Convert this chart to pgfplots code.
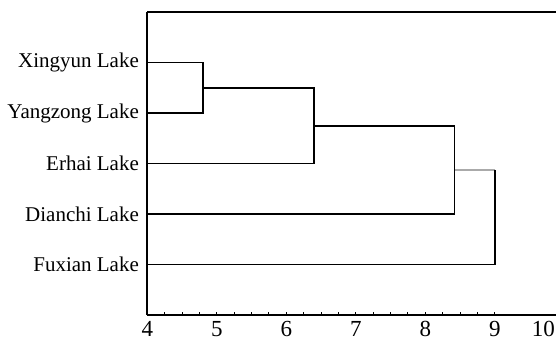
\documentclass[border=0pt]{standalone}
\usepackage{pgfplots}
\pgfplotsset{compat=1.18}
\usepackage{fontspec}
\setmainfont{Liberation Serif}
\definecolor{lg}{RGB}{170,170,170}
\begin{document}
\begin{tikzpicture}
\begin{axis}[
  scale only axis, width=208.5pt, height=151.5pt,
  xmin=4, xmax=10, ymin=0, ymax=6,
  axis x line*=box, axis y line*=left,
  xtick pos=left, ytick pos=left,
  axis line style={line width=0.8pt},
  xtick={4,5,6,7,8,9},
  extra x ticks={10},
  extra x tick style={xticklabel style={xshift=-10.5pt}},
  minor x tick num=3,
  tick align=inside,
  major tick length=1.5pt, minor tick length=1.5pt,
  tick style={black, line width=0.5pt},
  ytick={1,2,3,4,5},
  yticklabels={Fuxian Lake, Dianchi Lake, Erhai Lake, Yangzong Lake, Xingyun Lake},
  ytick style={draw=none},
  /pgf/number format/assume math mode=true,
  xticklabel style={font=\fontsize{11.5}{13}\selectfont, inner sep=0pt, yshift=-3pt},
  yticklabel style={font=\fontsize{10.5}{12}\selectfont, inner sep=4pt},
  clip=false,
]
\addplot[lg, line width=0.9pt, mark=none] coordinates {(8.42,2.875) (9.0,2.875)};
\addplot[black, line width=0.9pt, mark=none] coordinates {(4,5) (4.8,5) (4.8,4) (4,4)};
\addplot[black, line width=0.9pt, mark=none] coordinates {(4.8,4.5) (6.4,4.5) (6.4,3) (4,3)};
\addplot[black, line width=0.9pt, mark=none] coordinates {(6.4,3.75) (8.42,3.75) (8.42,2) (4,2)};
\addplot[black, line width=0.9pt, mark=none] coordinates {(9.0,2.875) (9.0,1) (4,1)};
\end{axis}
\pgfresetboundingbox
\path[use as bounding box] (-73.65pt,-14pt) rectangle (204.35pt,157.5pt);
\end{tikzpicture}
\end{document}
